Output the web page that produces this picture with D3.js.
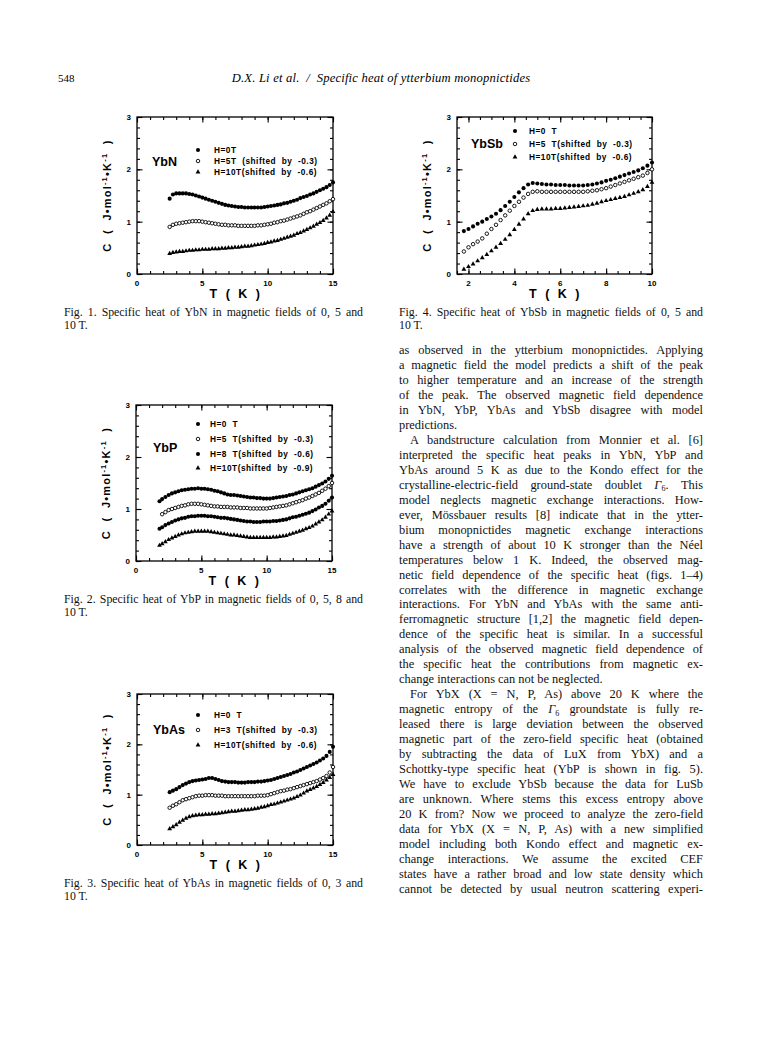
<!DOCTYPE html>
<html>
<head>
<meta charset="utf-8">
<script src="https://cdn.jsdelivr.net/npm/d3@7"></script>
<style>
  body { margin: 0; background: #fff; }
  svg { display: block; }
</style>
</head>
<body>
<script>
// ---- data ----
// Fig. 1  YbN
const tYbN = [2.5,2.75,3,3.25,3.5,3.75,4,4.25,4.5,4.75,5,5.25,5.5,5.75,6,6.25,6.5,6.75,7,7.25,7.5,7.75,8,8.25,8.5,8.75,9,9.25,9.5,9.75,10,10.25,10.5,10.75,11,11.25,11.5,11.75,12,12.25,12.5,12.75,13,13.25,13.5,13.75,14,14.25,14.5,14.75,15];
const cYbN_0T  = [1.44,1.52,1.54,1.54,1.54,1.54,1.53,1.52,1.50,1.48,1.46,1.44,1.42,1.40,1.38,1.36,1.34,1.32,1.31,1.30,1.29,1.28,1.28,1.27,1.27,1.27,1.27,1.27,1.27,1.28,1.29,1.30,1.31,1.32,1.33,1.35,1.36,1.38,1.40,1.42,1.45,1.47,1.49,1.52,1.54,1.57,1.60,1.63,1.66,1.70,1.75];
const cYbN_5T  = [0.90,0.94,0.96,0.97,0.98,0.99,1.00,1.01,1.01,1.01,1.00,0.99,0.98,0.97,0.96,0.95,0.94,0.94,0.93,0.93,0.93,0.92,0.92,0.92,0.92,0.92,0.92,0.93,0.93,0.94,0.95,0.96,0.98,0.99,1.01,1.02,1.04,1.06,1.08,1.10,1.12,1.15,1.18,1.20,1.23,1.26,1.29,1.32,1.35,1.39,1.43];
const cYbN_10T = [0.39,0.41,0.42,0.43,0.43,0.44,0.45,0.45,0.46,0.46,0.47,0.47,0.47,0.48,0.48,0.48,0.49,0.49,0.50,0.50,0.51,0.51,0.52,0.53,0.53,0.54,0.55,0.56,0.57,0.58,0.60,0.61,0.63,0.64,0.66,0.68,0.70,0.72,0.74,0.77,0.79,0.82,0.85,0.88,0.91,0.95,0.98,1.02,1.07,1.12,1.19];
const legYbN = ["H=0T", "H=5T  (shifted  by  -0.3)", "H=10T(shifted  by  -0.6)"];

// Fig. 2  YbP
const tYbP = [1.8,2,2.25,2.5,2.75,3,3.25,3.5,3.75,4,4.25,4.5,4.75,5,5.25,5.5,5.75,6,6.25,6.5,6.75,7,7.25,7.5,7.75,8,8.25,8.5,8.75,9,9.25,9.5,9.75,10,10.25,10.5,10.75,11,11.25,11.5,11.75,12,12.25,12.5,12.75,13,13.25,13.5,13.75,14,14.25,14.5,14.75,15];
const cYbP_0T  = [1.15,1.19,1.23,1.27,1.30,1.32,1.34,1.36,1.37,1.38,1.39,1.39,1.40,1.39,1.39,1.38,1.37,1.35,1.34,1.32,1.30,1.28,1.27,1.27,1.26,1.25,1.24,1.23,1.22,1.22,1.21,1.21,1.20,1.20,1.20,1.21,1.22,1.23,1.24,1.25,1.27,1.28,1.30,1.32,1.34,1.36,1.38,1.40,1.43,1.46,1.49,1.53,1.58,1.64];
const cYbP_5T  = [null,0.90,0.94,0.98,1.00,1.02,1.04,1.06,1.07,1.09,1.10,1.10,1.10,1.09,1.08,1.07,1.06,1.05,1.05,1.04,1.04,1.04,1.03,1.03,1.03,1.02,1.02,1.02,1.01,1.01,1.01,1.01,1.01,1.01,1.02,1.03,1.04,1.05,1.06,1.07,1.09,1.11,1.13,1.15,1.17,1.20,1.22,1.25,1.28,1.31,1.35,1.39,1.44,1.50];
const cYbP_8T  = [0.62,0.65,0.69,0.72,0.75,0.78,0.80,0.82,0.83,0.85,0.86,0.86,0.87,0.87,0.87,0.86,0.86,0.85,0.84,0.83,0.83,0.82,0.81,0.80,0.79,0.78,0.77,0.76,0.76,0.75,0.75,0.75,0.76,0.76,0.76,0.77,0.77,0.78,0.79,0.80,0.82,0.84,0.85,0.87,0.89,0.91,0.93,0.96,0.99,1.03,1.06,1.10,1.16,1.22];
const cYbP_10T = [0.30,0.33,0.37,0.41,0.44,0.47,0.50,0.52,0.54,0.55,0.56,0.57,0.57,0.57,0.57,0.57,0.56,0.55,0.54,0.53,0.52,0.51,0.50,0.50,0.49,0.48,0.47,0.46,0.45,0.45,0.45,0.45,0.45,0.45,0.45,0.46,0.46,0.47,0.48,0.49,0.51,0.53,0.55,0.57,0.59,0.62,0.64,0.67,0.71,0.75,0.79,0.84,0.90,0.96];
const legYbP = ["H=0  T", "H=5  T(shifted  by  -0.3)", "H=8  T(shifted  by  -0.6)", "H=10T(shifted  by  -0.9)"];

// Fig. 3  YbAs
const tYbAs = [2.5,2.75,3,3.25,3.5,3.75,4,4.25,4.5,4.75,5,5.25,5.5,5.75,6,6.25,6.5,6.75,7,7.25,7.5,7.75,8,8.25,8.5,8.75,9,9.25,9.5,9.75,10,10.25,10.5,10.75,11,11.25,11.5,11.75,12,12.25,12.5,12.75,13,13.25,13.5,13.75,14,14.25,14.5,14.75,15];
const cYbAs_0T  = [1.05,1.08,1.11,1.15,1.19,1.22,1.25,1.27,1.28,1.29,1.30,1.31,1.33,1.33,1.31,1.29,1.27,1.26,1.25,1.25,1.25,1.24,1.24,1.24,1.25,1.25,1.25,1.26,1.26,1.27,1.28,1.29,1.31,1.33,1.35,1.37,1.39,1.41,1.44,1.46,1.49,1.52,1.55,1.58,1.61,1.64,1.68,1.72,1.77,1.85,1.95];
const cYbAs_3T  = [0.74,0.78,0.81,0.85,0.89,0.91,0.93,0.95,0.97,0.98,0.98,0.99,0.99,0.99,0.98,0.98,0.98,0.97,0.97,0.97,0.97,0.97,0.97,0.97,0.97,0.97,0.97,0.98,0.98,0.98,0.99,1.01,1.03,1.05,1.07,1.08,1.10,1.11,1.13,1.15,1.17,1.19,1.21,1.23,1.25,1.27,1.30,1.33,1.37,1.44,1.55];
const cYbAs_10T = [0.32,0.36,0.40,0.45,0.49,0.53,0.56,0.58,0.59,0.60,0.60,0.61,0.61,0.62,0.62,0.63,0.64,0.65,0.66,0.67,0.67,0.68,0.69,0.70,0.70,0.71,0.72,0.73,0.75,0.76,0.78,0.80,0.81,0.83,0.85,0.87,0.89,0.91,0.93,0.96,0.99,1.03,1.07,1.10,1.13,1.16,1.20,1.24,1.29,1.34,1.40];
const legYbAs = ["H=0  T", "H=3  T(shifted  by  -0.3)", "H=10T(shifted  by  -0.6)"];

// Fig. 4  YbSb
const tYbSb = [1.8,2,2.2,2.4,2.6,2.8,3,3.2,3.4,3.6,3.8,4,4.2,4.4,4.6,4.8,5,5.2,5.4,5.6,5.8,6,6.2,6.4,6.6,6.8,7,7.2,7.4,7.6,7.8,8,8.2,8.4,8.6,8.8,9,9.2,9.4,9.6,9.8,10];
const cYbSb_0T  = [0.82,0.86,0.91,0.96,1.00,1.05,1.10,1.15,1.22,1.30,1.38,1.47,1.56,1.64,1.71,1.74,1.73,1.72,1.71,1.71,1.70,1.70,1.70,1.69,1.69,1.69,1.69,1.70,1.71,1.73,1.75,1.78,1.80,1.83,1.86,1.89,1.92,1.95,1.98,2.02,2.07,2.13];
const cYbSb_5T  = [0.43,0.51,0.57,0.62,0.68,0.77,0.86,0.94,1.03,1.12,1.21,1.30,1.38,1.46,1.53,1.57,1.58,1.57,1.57,1.57,1.57,1.57,1.57,1.57,1.57,1.57,1.57,1.58,1.59,1.60,1.62,1.64,1.67,1.70,1.73,1.76,1.79,1.82,1.85,1.88,1.93,2.00];
const cYbSb_10T = [0.09,0.14,0.19,0.25,0.31,0.37,0.44,0.51,0.58,0.66,0.75,0.85,0.95,1.05,1.15,1.21,1.23,1.24,1.24,1.24,1.25,1.25,1.26,1.27,1.28,1.29,1.30,1.31,1.33,1.35,1.38,1.40,1.42,1.44,1.46,1.48,1.51,1.54,1.57,1.61,1.67,1.75];
const legYbSb = ["H=0  T", "H=5  T(shifted  by  -0.3)", "H=10T(shifted  by  -0.6)"];

// tick labels
const xTicks15 = [0, 5, 10, 15];
const xTicks10 = [2, 4, 6, 8, 10];
const yTicks = [0, 1, 2, 3];

const captions = {
  f1: ["Fig. 1. Specific heat of YbN in magnetic fields of 0, 5 and", "10 T."],
  f2: ["Fig. 2. Specific heat of YbP in magnetic fields of 0, 5, 8 and", "10 T."],
  f3: ["Fig. 3. Specific heat of YbAs in magnetic fields of 0, 3 and", "10 T."],
  f4: ["Fig. 4. Specific heat of YbSb in magnetic fields of 0, 5 and", "10 T."]
};

// body text of the right column, one entry per printed line
// "#" marks the last line of a paragraph, ">" an indented first line
const bodyLines = [
  "as observed in the ytterbium monopnictides. Applying",
  "a magnetic field the model predicts a shift of the peak",
  "to higher temperature and an increase of the strength",
  "of the peak. The observed magnetic field dependence",
  "in YbN, YbP, YbAs and YbSb disagree with model",
  "#predictions.",
  ">A bandstructure calculation from Monnier et al. [6]",
  "interpreted the specific heat peaks in YbN, YbP and",
  "YbAs around 5 K as due to the Kondo effect for the",
  "crystalline-electric-field ground-state doublet Γ6. This",
  "model neglects magnetic exchange interactions. How-",
  "ever, Mössbauer results [8] indicate that in the ytter-",
  "bium monopnictides magnetic exchange interactions",
  "have a strength of about 10 K stronger than the Néel",
  "temperatures below 1 K. Indeed, the observed mag-",
  "netic field dependence of the specific heat (figs. 1–4)",
  "correlates with the difference in magnetic exchange",
  "interactions. For YbN and YbAs with the same anti-",
  "ferromagnetic structure [1,2] the magnetic field depen-",
  "dence of the specific heat is similar. In a successful",
  "analysis of the observed magnetic field dependence of",
  "the specific heat the contributions from magnetic ex-",
  "#change interactions can not be neglected.",
  ">For YbX (X = N, P, As) above 20 K where the",
  "magnetic entropy of the Γ6 groundstate is fully re-",
  "leased there is large deviation between the observed",
  "magnetic part of the zero-field specific heat (obtained",
  "by subtracting the data of LuX from YbX) and a",
  "Schottky-type specific heat (YbP is shown in fig. 5).",
  "We have to exclude YbSb because the data for LuSb",
  "are unknown. Where stems this excess entropy above",
  "20 K from? Now we proceed to analyze the zero-field",
  "data for YbX (X = N, P, As) with a new simplified",
  "model including both Kondo effect and magnetic ex-",
  "change interactions. We assume the excited CEF",
  "states have a rather broad and low state density which",
  "cannot be detected by usual neutron scattering experi-"
];

// ---- page ----
const W = 768, H = 1037;
const svg = d3.select("body").append("svg")
  .attr("width", W)
  .attr("height", H);

svg.append("rect").attr("width", W).attr("height", H).attr("fill", "#fff");

const serif = "'Liberation Serif', 'Times New Roman', serif";
const sans = "'Liberation Sans', Arial, Helvetica, sans-serif";

// running head
svg.append("text")
  .attr("x", 58).attr("y", 82)
  .attr("font-family", serif).attr("font-size", 11)
  .text("548");
svg.append("text")
  .attr("x", 381).attr("y", 82)
  .attr("text-anchor", "middle")
  .attr("font-family", serif).attr("font-size", 12.6).attr("font-style", "italic")
  .attr("letter-spacing", 0.2)
  .style("white-space", "pre")
  .text("D.X. Li et al.  /  Specific heat of ytterbium monopnictides");

// justified line of serif text, Γ6 gets italic Γ with subscript
function serifLine(x, y, width, str, size, justify) {
  const t = svg.append("text")
    .attr("x", x).attr("y", y)
    .attr("font-family", serif)
    .attr("font-size", size)
    .attr("fill", "#111");
  const parts = str.split("Γ6");
  parts.forEach((p, i) => {
    const s = t.append("tspan").text(p);
    if (i > 0) s.attr("dy", -2.5);
    if (i < parts.length - 1) {
      t.append("tspan").attr("font-style", "italic").text("Γ");
      t.append("tspan").attr("font-size", size * 0.65).attr("dy", 2.5).text("6");
    }
  });
  if (justify) {
    const len = t.node().getComputedTextLength();
    const n = (str.match(/ /g) || []).length;
    if (n > 0) t.style("word-spacing", ((width - len) / n) + "px");
  }
  return t;
}

// body column
const colX0 = 399, colX1 = 703;
bodyLines.forEach((raw, i) => {
  let s = raw, last = false, indent = 0;
  if (s[0] === "#") { last = true; s = s.slice(1); }
  if (s[0] === ">") { indent = 11; s = s.slice(1); }
  serifLine(colX0 + indent, 354 + i * 14.97, colX1 - colX0 - indent, s, 12.4, !last);
});

// ---- panels ----
function drawPanel(p) {
  const x = d3.scaleLinear().domain(p.xDom).range([p.left, p.right]);
  const y = d3.scaleLinear().domain([0, 3]).range([p.bottom, p.top]);
  const g = svg.append("g");

  // minor + major ticks, inward on all four sides
  const major = 5.5, minor = 3;
  const mk = (axis, scale, vals, len, tx, ty) => {
    g.append("g")
      .attr("transform", `translate(${tx},${ty})`)
      .call(axis(scale).tickValues(vals).tickSize(-len).tickFormat(""))
      .call(a => a.select(".domain").remove())
      .call(a => a.selectAll("line").attr("stroke", "#000").attr("stroke-width", 1.1));
  };
  mk(d3.axisBottom, x, p.xMinor, minor, 0, p.bottom);
  mk(d3.axisTop, x, p.xMinor, minor, 0, p.top);
  mk(d3.axisBottom, x, p.xMajor, major, 0, p.bottom);
  mk(d3.axisTop, x, p.xMajor, major, 0, p.top);
  mk(d3.axisLeft, y, p.yMinor, minor, p.left, 0);
  mk(d3.axisRight, y, p.yMinor, minor, p.right, 0);
  mk(d3.axisLeft, y, yTicks, major, p.left, 0);
  mk(d3.axisRight, y, yTicks, major, p.right, 0);

  g.append("rect")
    .attr("x", p.left).attr("y", p.top)
    .attr("width", p.right - p.left).attr("height", p.bottom - p.top)
    .attr("fill", "none").attr("stroke", "#000").attr("stroke-width", 1.3);

  // tick labels
  g.selectAll("text.xl").data(p.xMajor).enter().append("text")
    .attr("x", d => x(d)).attr("y", p.bottom + 12)
    .attr("text-anchor", "middle")
    .attr("font-family", sans).attr("font-weight", "bold").attr("font-size", 8)
    .text(d => d);
  g.selectAll("text.yl").data(yTicks).enter().append("text")
    .attr("x", p.left - 6).attr("y", d => y(d) + 3)
    .attr("text-anchor", "end")
    .attr("font-family", sans).attr("font-weight", "bold").attr("font-size", 8)
    .text(d => d);

  // axis titles
  g.append("text")
    .attr("x", (p.left + p.right) / 2).attr("y", p.bottom + 24)
    .attr("text-anchor", "middle")
    .attr("font-family", sans).attr("font-weight", "bold").attr("font-size", 12.5)
    .style("white-space", "pre").attr("letter-spacing", 0.5)
    .text("T  (  K  )");
  const yt = g.append("text")
    .attr("transform", `translate(${p.left - 26},${(p.top + p.bottom) / 2}) rotate(-90)`)
    .attr("text-anchor", "middle")
    .attr("font-family", sans).attr("font-weight", "bold").attr("font-size", 11)
    .attr("letter-spacing", 1.2)
    .style("white-space", "pre");
  yt.append("tspan").text("C  (  J•mol");
  yt.append("tspan").attr("font-size", 7.5).attr("dy", -4).text("-1");
  yt.append("tspan").attr("dy", 4).text("•K");
  yt.append("tspan").attr("font-size", 7.5).attr("dy", -4).text("-1");
  yt.append("tspan").attr("dy", 4).text("  )");

  // compound name
  g.append("text")
    .attr("x", p.nameX).attr("y", p.nameY)
    .attr("font-family", sans).attr("font-weight", "bold").attr("font-size", 12.5)
    .text(p.name);

  // markers
  const drawMark = (sel, shape) => {
    if (shape === "ring") {
      sel.append("circle").attr("r", 1.75).attr("fill", "#fff")
        .attr("stroke", "#000").attr("stroke-width", 0.9);
    } else if (shape === "tri") {
      sel.append("path").attr("d", d3.symbol(d3.symbolTriangle, 10)()).attr("fill", "#000");
    } else {
      sel.append("circle").attr("r", 2.05).attr("fill", "#000");
    }
  };

  p.series.forEach((vals, si) => {
    const pts = p.t.map((t, i) => [t, vals[i]]).filter(d => d[1] != null);
    const sg = g.append("g");
    const m = sg.selectAll("g").data(pts).enter().append("g")
      .attr("transform", d => `translate(${x(d[0])},${y(d[1])})`);
    drawMark(m, p.shapes[si]);
  });

  // legend
  p.legend.forEach((lab, i) => {
    const lg = g.append("g").attr("transform", `translate(${p.legMX},${p.legY[i]})`);
    drawMark(lg, p.shapes[i]);
    g.append("text")
      .attr("x", p.legTX).attr("y", p.legY[i] + 3)
      .attr("font-family", sans).attr("font-weight", "bold").attr("font-size", 8.3)
      .attr("letter-spacing", 0.5)
      .style("white-space", "pre")
      .text(lab);
  });

  // caption
  serifLine(p.capX0, p.bottom + 42, p.capX1 - p.capX0, p.caption[0], 11.8, true);
  serifLine(p.capX0, p.bottom + 55, 0, p.caption[1], 11.8, false);
}

const minor15 = d3.range(0, 15.001, 1);
const minor10 = d3.range(1.5, 10.001, 0.5);
const yMinor = d3.range(0, 3.001, 0.2);

drawPanel({
  left: 137, right: 333, top: 117, bottom: 274,
  xDom: [0, 15], xMajor: xTicks15, xMinor: minor15, yMinor: yMinor,
  name: "YbN", nameX: 152, nameY: 166,
  legMX: 198, legTX: 214, legY: [150, 161, 172], legend: legYbN,
  t: tYbN, series: [cYbN_0T, cYbN_5T, cYbN_10T], shapes: ["dot", "ring", "tri"],
  caption: captions.f1, capX0: 64, capX1: 363
});

drawPanel({
  left: 457, right: 652, top: 117, bottom: 274,
  xDom: [1.5, 10], xMajor: xTicks10, xMinor: minor10, yMinor: yMinor,
  name: "YbSb", nameX: 471, nameY: 148,
  legMX: 515, legTX: 529, legY: [131, 144, 157], legend: legYbSb,
  t: tYbSb, series: [cYbSb_0T, cYbSb_5T, cYbSb_10T], shapes: ["dot", "ring", "tri"],
  caption: captions.f4, capX0: 399, capX1: 703
});

drawPanel({
  left: 136, right: 332, top: 405, bottom: 561,
  xDom: [0, 15], xMajor: xTicks15, xMinor: minor15, yMinor: yMinor,
  name: "YbP", nameX: 153, nameY: 452,
  legMX: 198, legTX: 210, legY: [424, 439, 454, 468], legend: legYbP,
  t: tYbP, series: [cYbP_0T, cYbP_5T, cYbP_8T, cYbP_10T], shapes: ["dot", "ring", "dot", "tri"],
  caption: captions.f2, capX0: 64, capX1: 363
});

drawPanel({
  left: 137, right: 333, top: 694, bottom: 845,
  xDom: [0, 15], xMajor: xTicks15, xMinor: minor15, yMinor: yMinor,
  name: "YbAs", nameX: 153, nameY: 734,
  legMX: 198, legTX: 214, legY: [715, 730, 745], legend: legYbAs,
  t: tYbAs, series: [cYbAs_0T, cYbAs_3T, cYbAs_10T], shapes: ["dot", "ring", "tri"],
  caption: captions.f3, capX0: 64, capX1: 363
});
</script>
</body>
</html>
